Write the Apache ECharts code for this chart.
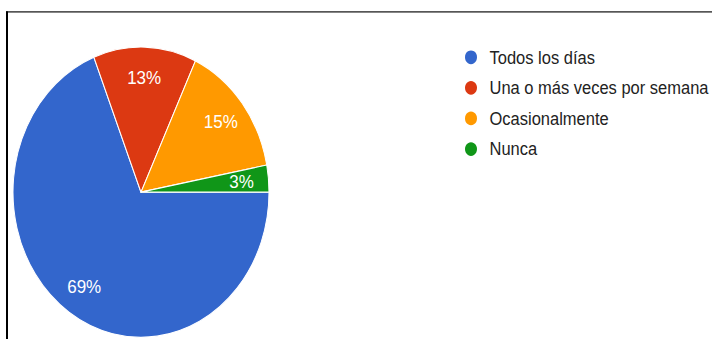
<!DOCTYPE html>
<html>
<head>
<meta charset="utf-8">
<script src="https://cdn.jsdelivr.net/npm/echarts@6/dist/echarts.min.js"></script>
<style>
  html, body { margin: 0; padding: 0; background: #fff; overflow: hidden; }
  /* the figure is laid out in a 712x299 box, then stretched vertically */
  #stage { position: absolute; left: 0; top: 0; width: 712px; height: 299px;
           transform: scaleY(1.1338); transform-origin: 0 0; }
  #frame { position: absolute; left: 6px; top: 10px; width: 720px; height: 320px;
           border-top: 1.5px solid #000; border-left: 2px solid #000; }
  #chart { position: absolute; left: 0; top: 0; width: 712px; height: 299px; }
</style>
</head>
<body>
<div id="stage"><div id="frame"></div><div id="chart"></div></div>
<script>
// Frecuencia de respuesta (porcentaje de encuestados)
const categories = ['Todos los días', 'Una o más veces por semana', 'Ocasionalmente', 'Nunca'];
const shares = [69, 13, 15, 3];
const colors = ['#3366cc', '#dc3912', '#ff9900', '#109618'];

const font = '"Liberation Sans", Arial, sans-serif';
const pieData = categories.map((name, i) => ({ name, value: shares[i], itemStyle: { color: colors[i] } }));

const chart = echarts.init(document.getElementById('chart'), null, { renderer: 'svg' });
chart.setOption({
  animation: false,
  legend: {
    orient: 'vertical',
    left: 458,
    top: 37,
    icon: 'circle',
    itemWidth: 15,
    itemHeight: 14,
    itemGap: 10,
    selectedMode: false,
    data: categories,
    textStyle: { fontFamily: font, fontSize: 16.5, color: '#222', padding: [0, 0, 0, 6] }
  },
  series: [
    {
      // the pie itself
      type: 'pie',
      center: [141, 169.5],
      radius: 128,
      startAngle: 0,
      clockwise: true,
      silent: true,
      itemStyle: { borderColor: '#fff', borderWidth: 1 },
      label: { show: false },
      labelLine: { show: false },
      data: pieData
    },
    {
      // invisible ring that places the percentage labels toward the rim
      type: 'pie',
      center: [141, 169.5],
      radius: [68, 128],
      startAngle: 0,
      clockwise: true,
      silent: true,
      legendHoverLink: false,
      itemStyle: { color: 'rgba(0,0,0,0)', borderWidth: 0 },
      label: {
        show: true,
        position: 'inside',
        formatter: '{d}%',
        fontFamily: font,
        fontSize: 17,
        color: '#fff'
      },
      labelLine: { show: false },
      data: categories.map((name, i) => ({ name, value: shares[i] }))
    }
  ]
});
</script>
</body>
</html>
